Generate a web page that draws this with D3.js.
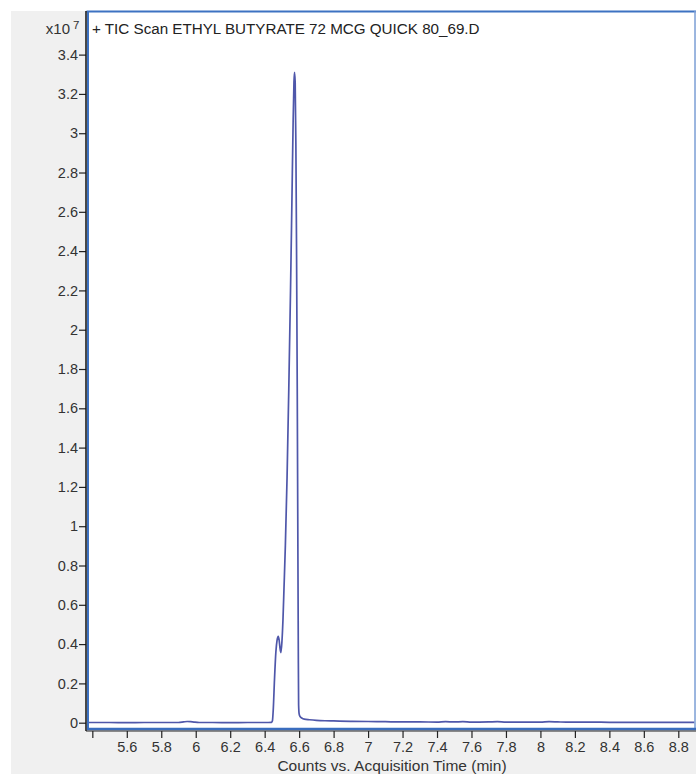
<!DOCTYPE html>
<html>
<head>
<meta charset="utf-8">
<script src="https://cdn.jsdelivr.net/npm/d3@7"></script>
<style>
  html, body { margin: 0; padding: 0; background: #ffffff; }
  svg { display: block; }
  text { font-family: "Liberation Sans", Arial, sans-serif; }
</style>
</head>
<body>
<svg id="chart" width="696" height="774"></svg>
<script>
// ---- data (x10^7 counts vs. acquisition time in minutes) ----
const chartTitle = "+ TIC Scan ETHYL BUTYRATE 72 MCG QUICK 80_69.D";
const xAxisTitle = "Counts vs. Acquisition Time (min)";
const times = [5.372, 5.50, 5.60, 5.70, 5.80, 5.90, 5.93, 5.95, 5.97, 5.99, 6.02, 6.10, 6.20, 6.30, 6.40, 6.44,
  6.445, 6.450, 6.457, 6.465, 6.472, 6.479, 6.484, 6.489, 6.494, 6.500, 6.506, 6.512, 6.520, 6.530, 6.540,
  6.550, 6.558, 6.565, 6.570, 6.573, 6.577, 6.581, 6.585, 6.589, 6.592, 6.595, 6.597, 6.600, 6.605, 6.615, 6.63,
  6.66, 6.70, 6.75, 6.80, 6.90, 7.00, 7.10, 7.20, 7.30, 7.40, 7.45, 7.50, 7.55, 7.60, 7.70, 7.75, 7.80,
  7.90, 8.00, 8.05, 8.10, 8.15, 8.30, 8.40, 8.60, 8.80, 8.894];
const counts = [0.001, 0.001, 0.000, 0.001, 0.001, 0.001, 0.004, 0.006, 0.005, 0.003, 0.001, 0.001, 0.000, 0.001, 0.001, 0.002,
  0.010, 0.070, 0.220, 0.360, 0.420, 0.440, 0.420, 0.380, 0.357, 0.410, 0.520, 0.680, 0.900, 1.250, 1.700,
  2.200, 2.650, 3.050, 3.260, 3.310, 3.260, 2.950, 2.400, 1.700, 1.050, 0.400, 0.090, 0.045, 0.032, 0.024, 0.018,
  0.015, 0.012, 0.010, 0.009, 0.007, 0.006, 0.005, 0.004, 0.004, 0.003, 0.005, 0.004, 0.005, 0.003, 0.004, 0.005, 0.003,
  0.003, 0.003, 0.005, 0.004, 0.003, 0.003, 0.002, 0.002, 0.002, 0.002];
const xTickValues = [5.4, 5.6, 5.8, 6.0, 6.2, 6.4, 6.6, 6.8, 7.0, 7.2, 7.4, 7.6, 7.8, 8.0, 8.2, 8.4, 8.6, 8.8];
const xTickLabels = ["", "5.6", "5.8", "6", "6.2", "6.4", "6.6", "6.8", "7", "7.2", "7.4", "7.6", "7.8", "8", "8.2", "8.4", "8.6", "8.8"];
const yTickValues = [0, 0.2, 0.4, 0.6, 0.8, 1.0, 1.2, 1.4, 1.6, 1.8, 2.0, 2.2, 2.4, 2.6, 2.8, 3.0, 3.2, 3.4];
const yTickLabels = ["0", "0.2", "0.4", "0.6", "0.8", "1", "1.2", "1.4", "1.6", "1.8", "2", "2.2", "2.4", "2.6", "2.8", "3", "3.2", "3.4"];

// ---- layout ----
const plotL = 87.5, plotR = 694.5, plotT = 11, plotB = 728;
const svg = d3.select("#chart");

svg.append("rect").attr("x", 11).attr("y", 11).attr("width", 685).attr("height", 763).attr("fill", "#f0f0f0");
svg.append("rect").attr("x", plotL).attr("y", plotT).attr("width", plotR - plotL).attr("height", plotB - plotT).attr("fill", "#ffffff");

const x = d3.scaleLinear().domain([5.372, 8.894]).range([plotL, plotR]);
const y = d3.scaleLinear().domain([-0.027, 3.622]).range([plotB, plotT]);

const data = times.map((t, i) => ({ t, v: counts[i] }));

// data line
const line = d3.line().x(d => x(d.t)).y(d => y(d.v)).curve(d3.curveMonotoneX);
svg.append("path").datum(data)
  .attr("d", line)
  .attr("fill", "none")
  .attr("stroke", "#4f57aa")
  .attr("stroke-width", 1.7)
  .attr("stroke-linejoin", "round");

// plot frame (blue)
svg.append("line").attr("x1", plotL - 1).attr("x2", 696).attr("y1", 11.5).attr("y2", 11.5).attr("stroke", "#3d72c2").attr("stroke-width", 2);
svg.append("line").attr("x1", 695).attr("x2", 695).attr("y1", 11).attr("y2", 729).attr("stroke", "#7fa2d8").attr("stroke-width", 1.5);
svg.append("line").attr("x1", 88).attr("x2", 88).attr("y1", 11).attr("y2", 730).attr("stroke", "#3d72c2").attr("stroke-width", 2);
svg.append("line").attr("x1", 87).attr("x2", 696).attr("y1", 729).attr("y2", 729).attr("stroke", "#3a6dbe").attr("stroke-width", 2.5);

// y axis
const yAxis = d3.axisLeft(y).tickValues(yTickValues).tickFormat((d, i) => yTickLabels[i]).tickSize(7).tickSizeOuter(0);
const gy = svg.append("g").attr("transform", "translate(86,0)").call(yAxis);
gy.select(".domain").remove();
gy.append("line").attr("x1", 0).attr("x2", 0).attr("y1", 11).attr("y2", 731).attr("stroke", "#111").attr("stroke-width", 1.5);
gy.selectAll(".tick line").attr("stroke", "#222").attr("stroke-width", 1.2);
gy.selectAll(".tick text").attr("fill", "#333").attr("font-size", 14.5).attr("x", -8);

// x axis
const xAxis = d3.axisBottom(x).tickValues(xTickValues).tickFormat((d, i) => xTickLabels[i]).tickSize(7).tickSizeOuter(0);
const gx = svg.append("g").attr("transform", "translate(0,731)").call(xAxis);
gx.select(".domain").remove();
gx.append("line").attr("x1", 86).attr("x2", 696).attr("y1", 0).attr("y2", 0).attr("stroke", "#222").attr("stroke-width", 1.2);
gx.selectAll(".tick line").attr("stroke", "#222").attr("stroke-width", 1.2);
gx.selectAll(".tick text").attr("fill", "#333").attr("font-size", 14.5).attr("y", 11);

// axis title
svg.append("text").attr("x", 392).attr("y", 771).attr("text-anchor", "middle")
  .attr("font-size", 15.5).attr("fill", "#333").text(xAxisTitle);

// chart title
svg.append("text").attr("x", 92).attr("y", 34).attr("font-size", 15.2).attr("fill", "#222").text(chartTitle);

// exponent label
const ex = svg.append("text").attr("x", 70).attr("y", 34).attr("text-anchor", "end").attr("font-size", 15).attr("fill", "#333");
ex.text("x10");
svg.append("text").attr("x", 73).attr("y", 29).attr("font-size", 11.5).attr("fill", "#333").text("7");
</script>
</body>
</html>
